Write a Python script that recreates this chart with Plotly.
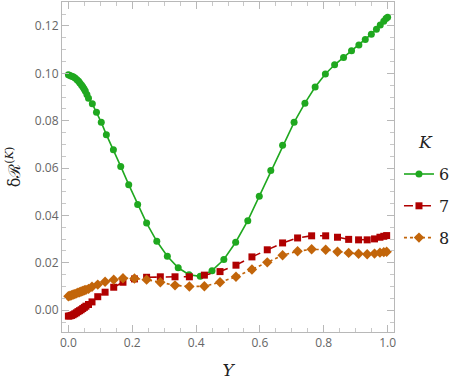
import plotly.graph_objects as go

# K = 6
y6_x = [0.0, 0.005, 0.01, 0.015, 0.021, 0.027, 0.032, 0.036, 0.041, 0.045, 0.049, 0.053, 0.058, 0.063,
        0.075, 0.088, 0.103, 0.119, 0.141, 0.164, 0.189, 0.217, 0.245, 0.277, 0.31, 0.344, 0.378,
        0.413, 0.45, 0.487, 0.524, 0.562, 0.598, 0.634, 0.671, 0.707, 0.741, 0.773, 0.805, 0.834,
        0.862, 0.887, 0.91, 0.93, 0.949, 0.965, 0.977, 0.988, 0.995, 1.0]
r6 = [0.0994, 0.0991, 0.0988, 0.0985, 0.098, 0.0973, 0.0966, 0.0959, 0.0951, 0.0943, 0.0935, 0.0925,
      0.0911, 0.0895, 0.0871, 0.0836, 0.0793, 0.0741, 0.0677, 0.0607, 0.053, 0.0446, 0.0368, 0.0291,
      0.0228, 0.0179, 0.015, 0.0143, 0.0167, 0.0214, 0.0287, 0.0378, 0.0481, 0.059, 0.0696, 0.0793,
      0.0874, 0.0942, 0.0997, 0.1036, 0.1067, 0.1095, 0.112, 0.1143, 0.1165, 0.1186, 0.1204, 0.122,
      0.1231, 0.1237]

# K = 7 and K = 8 share the same Y grid
y78_x = [0.0, 0.005, 0.01, 0.015, 0.02, 0.025, 0.03, 0.035, 0.04, 0.045, 0.05, 0.055, 0.063,
         0.074, 0.092, 0.115, 0.142, 0.171, 0.207, 0.245, 0.288, 0.334, 0.379, 0.426, 0.475,
         0.525, 0.575, 0.623, 0.671, 0.718, 0.762, 0.806, 0.843, 0.878, 0.909, 0.936, 0.959,
         0.976, 0.988, 0.997]
r7 = [-0.0025, -0.0024, -0.0022, -0.0019, -0.0015, -0.0011, -0.0006, -0.0002, 0.0002, 0.0007,
      0.0012, 0.0017, 0.0024, 0.0035, 0.0057, 0.0076, 0.0097, 0.0118, 0.0132, 0.0139, 0.0141,
      0.0141, 0.0141, 0.0148, 0.0163, 0.019, 0.0225, 0.0255, 0.0284, 0.0305, 0.0314, 0.0314,
      0.0308, 0.0299, 0.0297, 0.0297, 0.0301, 0.0308, 0.0312, 0.0315]
r8 = [0.0059, 0.0061, 0.0063, 0.0066, 0.0068, 0.0071, 0.0074, 0.0076, 0.0079, 0.0081, 0.0084,
      0.0086, 0.009, 0.0099, 0.0108, 0.012, 0.0129, 0.0135, 0.0134, 0.0129, 0.0118, 0.0105,
      0.010, 0.0101, 0.0118, 0.0141, 0.0172, 0.0202, 0.0232, 0.0249, 0.0257, 0.0255, 0.0247,
      0.0242, 0.0238, 0.0236, 0.0239, 0.0243, 0.0245, 0.0247]

green = "#1fa81f"
red = "#b00000"
orange = "#c2650a"

fig = go.Figure()
fig.add_trace(go.Scatter(x=y6_x, y=r6, mode="lines+markers", name="6", legendgroup="6",
                         line=dict(color=green, width=1.6),
                         marker=dict(symbol="circle", size=7, color=green)))
fig.add_trace(go.Scatter(x=y78_x, y=r7, mode="lines+markers", name="7", legendgroup="7",
                         line=dict(color=red, width=1.6, dash="dash"),
                         marker=dict(symbol="square", size=7, color=red)))
fig.add_trace(go.Scatter(x=y78_x, y=r8, mode="lines+markers", name="8", legendgroup="8",
                         line=dict(color=orange, width=1.6, dash="dot"),
                         marker=dict(symbol="diamond", size=8, color=orange)))

axis_common = dict(
    showline=True, linecolor="#b8b8b8", linewidth=1, mirror="allticks",
    ticks="inside", ticklen=7, tickcolor="#b8b8b8", showgrid=False, zeroline=False,
    tickfont=dict(family="Open Sans, sans-serif", size=12, color="#666666"),
)

fig.update_xaxes(range=[-0.02, 1.02], tickvals=[0.0, 0.2, 0.4, 0.6, 0.8, 1.0],
                 ticktext=["0.0", "0.2", "0.4", "0.6", "0.8", "1.0"],
                 minor=dict(ticks="inside", ticklen=4, tickcolor="#c8c8c8", dtick=0.05),
                 title=dict(text="<i>Y</i>", font=dict(family="DejaVu Serif, serif", size=17, color="#222222"),
                            standoff=13),
                 **axis_common)
fig.update_yaxes(range=[-0.0092, 0.1301], tickvals=[0.0, 0.02, 0.04, 0.06, 0.08, 0.10, 0.12],
                 ticktext=["0.00", "0.02", "0.04", "0.06", "0.08", "0.10", "0.12"],
                 minor=dict(ticks="inside", ticklen=4, tickcolor="#c8c8c8", dtick=0.005),
                 title=dict(text="δℛ<sup>(<i>K</i>)</sup>",
                            font=dict(family="DejaVu Serif, serif", size=16, color="#222222"),
                            standoff=10),
                 **axis_common)

fig.add_annotation(text="<i>K</i>", xref="paper", yref="paper", x=1.094, y=0.576,
                   xanchor="center", yanchor="middle", showarrow=False,
                   font=dict(family="DejaVu Serif, serif", size=17, color="#222222"))

fig.update_layout(
    width=457, height=384,
    margin=dict(l=62, r=63, t=2, b=52, autoexpand=False),
    plot_bgcolor="white", paper_bgcolor="white",
    legend=dict(x=1.015, y=0.53, xanchor="left", yanchor="top",
                font=dict(family="DejaVu Serif, serif", size=16, color="#222222"),
                tracegroupgap=8, itemwidth=30),
)

fig.write_html("out.html", config={"displayModeBar": False},
               post_script="document.body.style.margin='0';")
